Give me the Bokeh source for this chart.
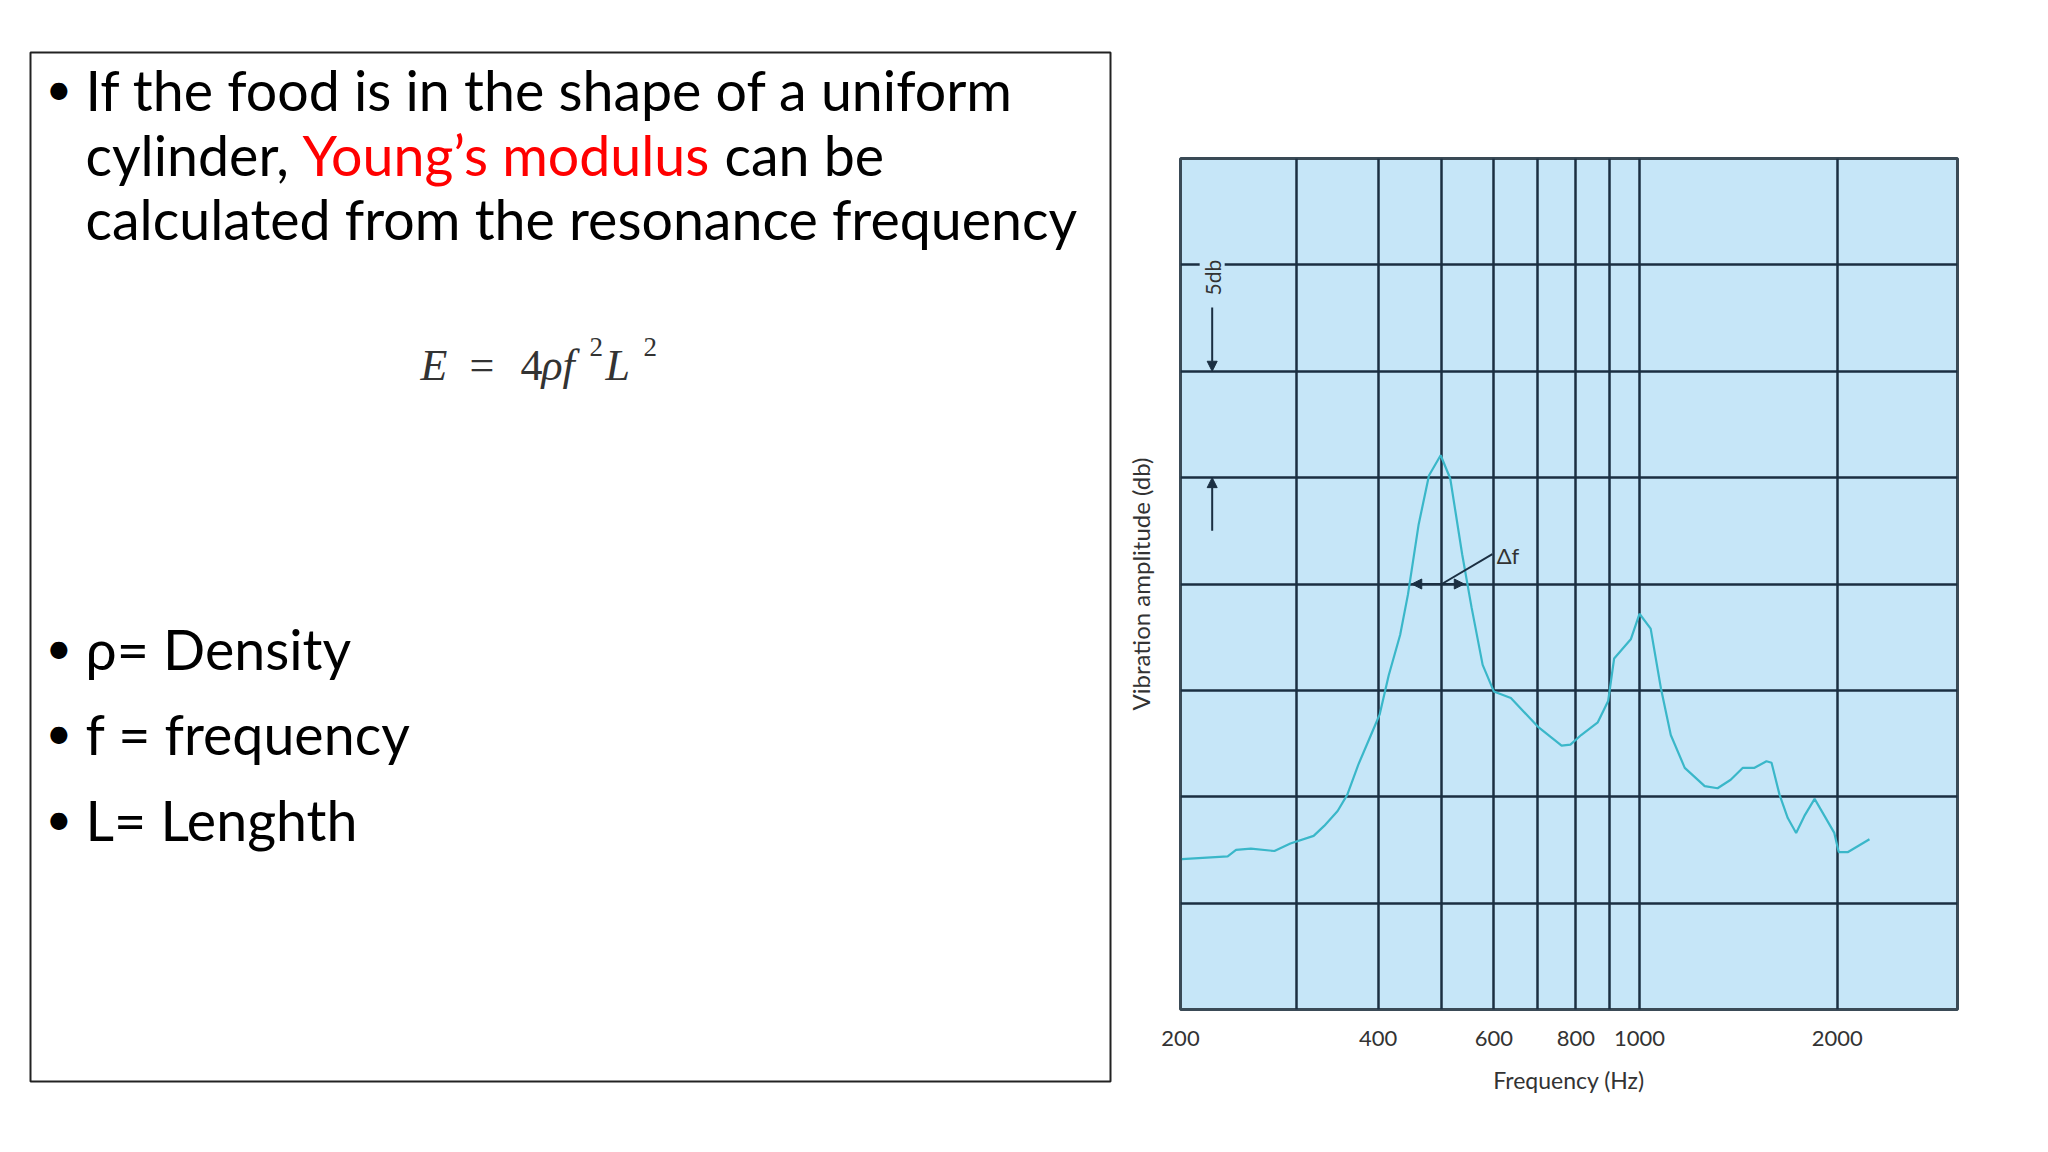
from bokeh.plotting import figure
from bokeh.layouts import row
from bokeh.models import (Range1d, FixedTicker, NumeralTickFormatter, Arrow,
                          NormalHead, Label)
from bokeh.core.properties import value
from bokeh.embed import file_html
from bokeh.resources import INLINE
import math

# ---------------- data ----------------
freq_hz = [201, 236, 243, 256, 278, 294, 319, 331, 347, 359, 373, 390, 402, 415,
           432, 444, 461, 478, 498, 515, 537, 555, 577, 600, 637, 700, 761, 785,
           815, 864, 896, 915, 970, 1000, 1040, 1078, 1116, 1172, 1257, 1315,
           1377, 1437, 1497, 1561, 1589, 1634, 1682, 1732, 1783, 1848, 1913,
           1980, 2011, 2078, 2240]
amplitude_db = [7.07, 7.2, 7.5, 7.56, 7.45, 7.8, 8.16, 8.63, 9.33, 10.1, 11.5,
                12.9, 13.86, 15.7, 17.6, 19.5, 22.8, 25.1, 26.05, 24.96, 21.4,
                18.9, 16.2, 14.95, 14.64, 13.3, 12.4, 12.45, 12.9, 13.5, 14.5,
                16.5, 17.4, 18.6, 17.9, 15.1, 12.9, 11.36, 10.5, 10.4, 10.8,
                11.36, 11.36, 11.67, 11.6, 10.1, 9.0, 8.3, 9.1, 9.9, 9.1, 8.3,
                7.4, 7.4, 8.0]
x_tick_values = [200, 400, 600, 800, 1000, 2000]
x_grid_values = [300, 400, 500, 600, 700, 800, 900, 1000, 2000]
y_grid_values = [5, 10, 15, 20, 25, 30, 35]

# resonance-width annotation (Hz / dB)
df_center, df_low, df_high, df_level = 500, 450, 541, 20
scale_db_top, scale_db_bottom = 30, 25

bullet_lines = ["If the food is in the shape of a uniform",
                "calculated from the resonance frequency"]
line2_parts = ["cylinder,", "Young\u2019s modulus", "can be"]
symbol_lines = ["\u03c1= Density", "f = frequency", "L= Lenghth"]

INK = "#1b2f42"
EDGE = "#3a4a56"
BG = "#c6e6f8"
CURVE = "#3ab7c9"
BODY_FONT = value("Lato")
SERIF = value("Liberation Serif")

# ---------------- left slide panel (pixel layout) ----------------
left = figure(width=1120, height=1144, x_range=Range1d(0, 1120),
              y_range=Range1d(1144, 0), x_axis_type=None, y_axis_type=None,
              output_backend="svg", toolbar_location=None,
              min_border=0, min_border_left=0, min_border_right=0,
              min_border_top=0, min_border_bottom=0)
left.frame_align = False
left.outline_line_color = None
left.background_fill_color = "white"
left.border_fill_color = "white"
left.xgrid.visible = False
left.ygrid.visible = False

left.quad(left=[30], right=[1110], top=[52], bottom=[1081], fill_color=None,
          line_color="#222222", line_width=2)

FS = "55.5px"
common = dict(text_font=BODY_FONT, text_font_size=FS, text_baseline="alphabetic",
              text_align="left")
# bullets
left.text(x=[45, 45, 45, 45], y=[87, 646, 731, 817], text=["\u2022"] * 4,
          text_color="black", text_font=BODY_FONT, text_font_size="46px",
          text_baseline="alphabetic", text_align="left")
left.text(x=[85], y=[89], text=[bullet_lines[0]], text_color="black", **common)
left.text(x=[85], y=[154], text=[line2_parts[0]], text_color="black", **common)
left.text(x=[302], y=[154], text=[line2_parts[1]], text_color="#ff0000", **common)
left.text(x=[724], y=[154], text=[line2_parts[2]], text_color="black", **common)
left.text(x=[85], y=[218], text=[bullet_lines[1]], text_color="black", **common)
left.text(x=[85, 85, 85], y=[648, 733, 819], text=symbol_lines,
          text_color="black", **common)

# formula E = 4 rho f^2 L^2
fcol = "#333333"
fit = dict(text_font=SERIF, text_font_style="italic", text_font_size="44px",
           text_baseline="alphabetic", text_color=fcol)
fup = dict(text_font=SERIF, text_font_style="normal", text_font_size="44px",
           text_baseline="alphabetic", text_color=fcol)
fsup = dict(text_font=SERIF, text_font_style="normal", text_font_size="27px",
            text_baseline="alphabetic", text_color=fcol)
left.text(x=[420], y=[365], text=["E"], **fit)
left.text(x=[469], y=[365], text=["="], **fup)
left.text(x=[520], y=[365], text=["4"], **fup)
left.text(x=[541], y=[365], text=["\u03c1"], **fit)
left.text(x=[562], y=[365], text=["f"], **fit)
left.text(x=[589], y=[346], text=["2"], **fsup)
left.text(x=[605], y=[365], text=["L"], **fit)
left.text(x=[643], y=[346], text=["2"], **fsup)

# ---------------- right chart ----------------
p = figure(width=920, height=1144, x_axis_type="log",
           x_range=Range1d(200, 3050), y_range=Range1d(0, 40),
           output_backend="svg", toolbar_location=None,
           min_border_left=60, min_border_right=83,
           min_border_top=158, min_border_bottom=135)
p.frame_align = False
p.background_fill_color = BG
p.border_fill_color = "white"
p.outline_line_color = EDGE
p.outline_line_width = 3
p.outline_line_alpha = 1

p.xgrid.ticker = FixedTicker(ticks=x_grid_values)
p.ygrid.ticker = FixedTicker(ticks=y_grid_values)
for g in (p.xgrid, p.ygrid):
    g.grid_line_color = INK
    g.grid_line_width = 2.5
    g.grid_line_alpha = 1

xa = p.xaxis[0]
xa.ticker = FixedTicker(ticks=x_tick_values)
xa.formatter = NumeralTickFormatter(format="0")
xa.major_tick_out = 0
xa.major_tick_in = 0
xa.minor_tick_line_color = None
xa.axis_line_color = None
xa.major_label_standoff = 21
xa.major_label_text_font = "Lato"
xa.major_label_text_font_size = "22px"
xa.major_label_text_color = "#333333"
xa.axis_label = "Frequency (Hz)"
xa.axis_label_text_font = "Lato"
xa.axis_label_text_font_style = "normal"
xa.axis_label_text_font_size = "23px"
xa.axis_label_text_color = "#333333"
xa.axis_label_standoff = 17

ya = p.yaxis[0]
ya.ticker = FixedTicker(ticks=[])
ya.major_tick_out = 0
ya.major_tick_in = 0
ya.minor_tick_line_color = None
ya.axis_line_color = None
ya.major_label_text_font_size = "0px"
ya.axis_label = "Vibration amplitude (db)"
ya.axis_label_text_font = "Lato"
ya.axis_label_text_font_style = "normal"
ya.axis_label_text_font_size = "24px"
ya.axis_label_text_color = "#333333"
ya.axis_label_standoff = 26

p.line(freq_hz, amplitude_db, line_color=CURVE, line_width=2.2)

# 5 db scale marker
sx = 223.5
p.add_layout(Label(x=sx, y=34.4, text="5db", angle=math.pi / 2,
                   text_align="center", text_baseline="middle",
                   text_font="Lato", text_font_size="21px",
                   text_color="#333333", background_fill_color=BG,
                   background_fill_alpha=1))
p.add_layout(Arrow(x_start=sx, y_start=33.0, x_end=sx, y_end=scale_db_top,
                   line_color=INK, line_width=2,
                   end=NormalHead(size=10, fill_color=INK, line_color=INK)))
p.add_layout(Arrow(x_start=sx, y_start=22.5, x_end=sx, y_end=scale_db_bottom,
                   line_color=INK, line_width=2,
                   end=NormalHead(size=10, fill_color=INK, line_color=INK)))

# delta f marker
for xe in (df_low, df_high):
    p.add_layout(Arrow(x_start=df_center, y_start=df_level, x_end=xe, y_end=df_level,
                       line_color=INK, line_width=2,
                       end=NormalHead(size=10, fill_color=INK, line_color=INK)))
p.add_layout(Arrow(x_start=df_center, y_start=df_level, x_end=597, y_end=21.4,
                   line_color=INK, line_width=2, end=None))
p.add_layout(Label(x=606, y=21.35, text="\u0394f", text_align="left",
                   text_baseline="middle", text_font="Lato",
                   text_font_size="22px", text_color="#333333"))

layout = row(left, p)
open("out.html", "w").write(file_html(layout, INLINE))
